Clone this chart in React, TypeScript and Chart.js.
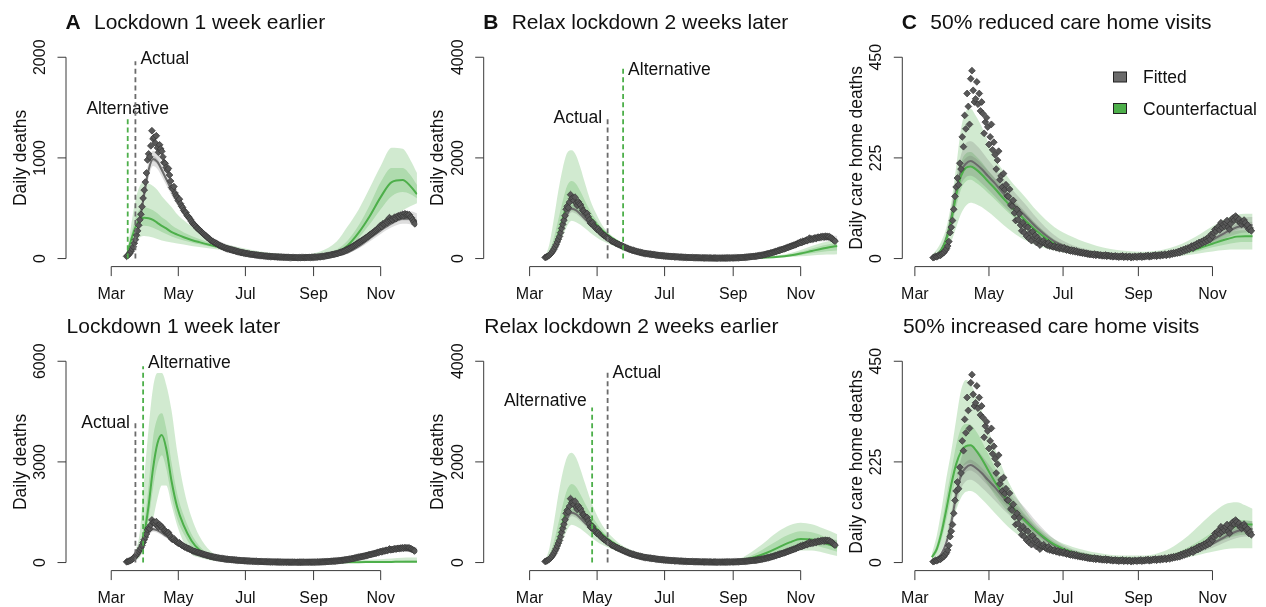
import React, { useEffect, useRef } from "react";
import { Chart, registerables } from "chart.js";

Chart.register(...registerables);

// ---------------- DATA ----------------
// x values are days since 1 March 2020
const monthTickDays = [0, 61, 122, 184, 245];
const monthTickLabels = ["Mar", "May", "Jul", "Sep", "Nov"];

// observed daily deaths (all settings), first value = day 14
const allDeathsStart = 14;
const allDeaths = [
  22, 30, 41, 55, 72, 95, 118, 152, 188, 232,
  275, 330, 385, 440, 515, 600, 680, 760, 850, 980,
  1040, 1010, 1120, 1270, 1190, 1205, 1150, 1220, 1100, 1055,
  1130, 1090, 1065, 1010, 955, 945, 905, 880, 895, 830,
  770, 705, 690, 715, 650, 625, 605, 575, 590, 545,
  520, 505, 478, 462, 455, 428, 418, 402, 388, 368,
  352, 338, 332, 318, 302, 296, 284, 276, 262, 254,
  246, 234, 226, 214, 206, 196, 186, 178, 171, 164,
  160, 151, 148, 139, 133, 127, 123, 117, 113, 107,
  104, 99, 97, 93, 90, 87, 85, 80, 78, 75,
  71, 68, 66, 63, 60, 58, 56, 54, 52, 49,
  48, 46, 44, 42, 41, 39, 38, 36, 35, 34,
  32, 31, 29, 28, 27, 26, 25, 24, 23, 22,
  21, 20, 20, 19, 18, 18, 17, 16, 16, 15,
  15, 14, 14, 13, 13, 12, 12, 12, 11, 11,
  11, 10, 10, 10, 10, 9, 9, 10, 9, 10,
  10, 10, 11, 10, 11, 11, 12, 11, 12, 13,
  13, 14, 14, 15, 16, 17, 18, 19, 21, 22,
  24, 26, 28, 30, 32, 35, 37, 40, 42, 44,
  46, 49, 52, 56, 60, 64, 68, 72, 77, 82,
  88, 93, 99, 104, 110, 116, 123, 130, 137, 144,
  152, 159, 165, 172, 180, 187, 194, 201, 210, 218,
  226, 235, 242, 250, 258, 268, 275, 284, 295, 305,
  313, 330, 318, 345, 340, 352, 368, 358, 378, 406,
  381, 392, 385, 404, 412, 398, 418, 425, 415, 432,
  428, 440, 425, 445, 432, 440, 430, 436, 412, 405,
  385, 365, 345,
];

// observed daily care home deaths, first value = day 15
const careHomeStart = 15;
const careHomeDeaths = [
  2, 3, 5, 4, 6, 8, 7, 10, 12, 14,
  18, 22, 28, 38, 58, 70, 85, 110, 139, 160,
  180, 165, 213, 200, 272, 250, 320, 290, 369, 340,
  300, 402, 420, 376, 350, 357, 395, 345, 369, 330,
  350, 324, 280, 305, 315, 294, 255, 272, 300, 243,
  260, 232, 200, 220, 240, 176, 185, 160, 190, 154,
  165, 140, 139, 155, 120, 117, 130, 102, 85, 110,
  87, 100, 75, 62, 80, 58, 72, 50, 70, 45,
  58, 40, 60, 48, 52, 36, 47, 40, 30, 38,
  36, 40, 34, 32, 30, 35, 28, 30, 27, 26,
  28, 25, 24, 26, 22, 24, 23, 21, 24, 20,
  19, 21, 18, 17, 19, 16, 18, 15, 17, 14,
  15, 13, 14, 12, 13, 11, 12, 10, 11, 9,
  10, 9, 8, 10, 7, 9, 8, 7, 8, 6,
  7, 6, 8, 5, 7, 6, 5, 6, 4, 5,
  6, 4, 5, 3, 5, 4, 6, 3, 4, 5,
  3, 4, 5, 2, 4, 3, 5, 4, 3, 5,
  4, 6, 3, 5, 4, 6, 5, 7, 4, 6,
  5, 7, 6, 8, 5, 7, 8, 6, 9, 7,
  8, 10, 7, 9, 11, 8, 12, 10, 13, 11,
  14, 12, 16, 13, 18, 15, 20, 17, 22, 19,
  24, 21, 26, 28, 23, 30, 27, 33, 29, 36,
  32, 38, 35, 41, 37, 44, 40, 48, 43, 54,
  50, 58, 65, 61, 68, 72, 64, 80, 69, 76,
  72, 80, 85, 70, 65, 78, 88, 91, 86, 95,
  91, 84, 88, 80, 76, 82, 86, 80, 72, 75,
  65, 68, 62,
];

// days at which model quantiles are given
const bandDays = [14, 18, 22, 26, 30, 34, 38, 42, 46, 50, 55, 60, 66, 73, 80, 90, 100, 115, 130, 150, 170, 190, 205, 215, 225, 235, 245, 255, 265, 272, 278];

// fitted model, all deaths
const fitAllMed  = [20, 70, 180, 380, 640, 880, 990, 960, 880, 790, 680, 580, 470, 370, 290, 200, 140, 90, 55, 32, 18, 15, 30, 60, 120, 200, 280, 350, 395, 395, 370];
const fitAllLo95 = [15, 55, 150, 330, 570, 800, 920, 890, 815, 730, 625, 530, 430, 335, 260, 175, 120, 75, 45, 25, 13, 11, 24, 50, 100, 170, 245, 310, 345, 340, 310];
const fitAllHi95 = [28, 90, 215, 440, 720, 960, 1070, 1040, 950, 860, 740, 640, 520, 410, 325, 230, 165, 110, 68, 40, 24, 21, 38, 75, 145, 235, 320, 400, 460, 470, 450];
const fitAllLo50 = [18, 64, 168, 360, 615, 855, 965, 935, 855, 768, 662, 563, 457, 358, 280, 192, 133, 85, 51, 30, 16, 14, 28, 56, 113, 190, 268, 335, 378, 377, 350];
const fitAllHi50 = [23, 77, 193, 402, 668, 905, 1018, 988, 905, 813, 700, 598, 485, 382, 300, 208, 147, 95, 59, 35, 20, 17, 33, 65, 128, 212, 293, 368, 415, 415, 392];

// fitted model, care home deaths
const fitCareMed  = [3, 8, 20, 45, 90, 150, 195, 212, 218, 212, 200, 185, 168, 145, 125, 98, 70, 38, 22, 12, 8, 6, 8, 12, 20, 30, 42, 57, 70, 74, 75];
const fitCareLo95 = [2, 6, 15, 35, 72, 125, 165, 182, 185, 180, 168, 155, 138, 118, 100, 76, 54, 28, 16, 8, 5, 4, 6, 9, 15, 23, 33, 45, 55, 58, 58];
const fitCareHi95 = [5, 11, 27, 58, 112, 180, 232, 258, 262, 255, 240, 222, 202, 178, 155, 124, 92, 52, 30, 17, 11, 9, 12, 17, 27, 39, 53, 70, 86, 92, 93];
const fitCareLo50 = [3, 7, 18, 41, 84, 142, 185, 202, 206, 200, 187, 172, 155, 133, 114, 89, 63, 34, 20, 11, 7, 5, 7, 11, 18, 27, 38, 52, 64, 68, 68];
const fitCareHi50 = [4, 9, 22, 50, 97, 160, 208, 225, 230, 224, 212, 197, 180, 157, 136, 107, 77, 42, 25, 14, 9, 7, 9, 14, 23, 33, 47, 63, 77, 81, 82];

// counterfactual: lockdown 1 week earlier
const cfEarlyLockMed  = [30, 180, 310, 385, 405, 400, 385, 355, 325, 300, 262, 238, 212, 185, 163, 135, 110, 80, 55, 32, 20, 22, 60, 130, 257, 420, 610, 760, 780, 720, 640];
const cfEarlyLockLo95 = [20, 90, 160, 210, 225, 220, 210, 195, 180, 170, 160, 150, 140, 125, 115, 100, 85, 60, 38, 22, 12, 10, 30, 65, 125, 230, 330, 420, 480, 520, 550];
const cfEarlyLockHi95 = [45, 320, 580, 720, 760, 745, 720, 680, 620, 570, 510, 440, 380, 320, 270, 185, 150, 115, 80, 50, 35, 70, 170, 320, 488, 700, 920, 1100, 1090, 980, 850];
const cfEarlyLockLo50 = [26, 145, 250, 310, 325, 320, 305, 285, 265, 245, 220, 200, 180, 160, 142, 120, 98, 72, 48, 28, 17, 18, 48, 105, 205, 340, 490, 620, 660, 640, 600];
const cfEarlyLockHi50 = [36, 230, 400, 490, 510, 500, 480, 450, 410, 380, 330, 295, 260, 225, 195, 155, 125, 92, 64, 38, 25, 35, 90, 180, 330, 530, 760, 900, 900, 830, 730];

// counterfactual: lockdown 1 week later
const cfLateLockMed  = [40, 60, 140, 350, 850, 1700, 2800, 3550, 3800, 3400, 2400, 1650, 1100, 650, 380, 160, 80, 40, 25, 15, 10, 8, 8, 10, 12, 15, 18, 20, 22, 22, 22];
const cfLateLockLo95 = [30, 40, 70, 160, 450, 900, 1300, 1900, 2300, 2300, 1700, 1100, 600, 250, 150, 70, 35, 18, 10, 6, 4, 3, 3, 4, 5, 6, 7, 8, 8, 8, 8];
const cfLateLockHi95 = [55, 120, 350, 900, 2500, 4000, 5200, 5650, 5650, 5300, 4500, 3300, 2200, 1350, 800, 350, 150, 80, 50, 35, 28, 28, 35, 45, 60, 80, 100, 120, 140, 150, 150];
const cfLateLockLo50 = [35, 50, 110, 260, 650, 1300, 2200, 2900, 3200, 2800, 1950, 1300, 850, 480, 280, 110, 55, 28, 17, 10, 7, 5, 5, 6, 7, 9, 10, 12, 13, 13, 13];
const cfLateLockHi50 = [45, 80, 200, 500, 1150, 2300, 3700, 4300, 4450, 4000, 2950, 2050, 1400, 850, 500, 220, 110, 55, 35, 22, 16, 14, 16, 20, 25, 32, 40, 48, 55, 58, 58];

// counterfactual: relax lockdown 2 weeks later
const cfLateRelaxMed  = [20, 80, 220, 480, 800, 1080, 1200, 1150, 1060, 950, 820, 690, 560, 430, 330, 220, 150, 90, 55, 30, 15, 10, 12, 20, 35, 60, 100, 150, 200, 230, 250];
const cfLateRelaxLo95 = [12, 40, 100, 250, 450, 650, 750, 720, 670, 600, 510, 430, 350, 280, 215, 150, 100, 60, 35, 18, 8, 5, 6, 10, 18, 30, 45, 60, 75, 80, 85];
const cfLateRelaxHi95 = [30, 300, 800, 1350, 1800, 2100, 2150, 2050, 1800, 1500, 1150, 900, 650, 480, 370, 250, 170, 105, 65, 35, 22, 18, 24, 38, 65, 105, 170, 250, 320, 350, 370];
const cfLateRelaxLo50 = [15, 60, 160, 370, 620, 860, 960, 920, 850, 770, 660, 560, 455, 350, 268, 182, 125, 75, 45, 24, 11, 7, 9, 15, 26, 45, 72, 105, 135, 150, 160];
const cfLateRelaxHi50 = [24, 150, 420, 780, 1150, 1450, 1540, 1480, 1330, 1150, 940, 770, 590, 450, 345, 235, 160, 98, 60, 33, 18, 14, 18, 29, 50, 82, 135, 200, 260, 290, 310];

// counterfactual: relax lockdown 2 weeks earlier
const cfEarlyRelaxMed  = [20, 80, 220, 480, 800, 1080, 1200, 1150, 1060, 950, 820, 690, 560, 430, 330, 220, 150, 90, 55, 30, 20, 40, 120, 200, 300, 400, 470, 460, 400, 350, 300];
const cfEarlyRelaxLo95 = [12, 40, 100, 250, 450, 650, 750, 720, 670, 600, 510, 430, 350, 280, 215, 150, 100, 60, 35, 18, 10, 15, 50, 90, 140, 200, 240, 240, 200, 160, 130];
const cfEarlyRelaxHi95 = [30, 300, 800, 1350, 1800, 2100, 2180, 2080, 1850, 1580, 1250, 980, 730, 540, 400, 270, 185, 115, 72, 42, 30, 80, 280, 450, 620, 740, 790, 760, 680, 620, 560];
const cfEarlyRelaxLo50 = [15, 60, 160, 370, 620, 860, 960, 920, 850, 770, 660, 560, 455, 350, 268, 182, 125, 75, 45, 24, 15, 28, 85, 145, 220, 300, 355, 350, 300, 255, 215];
const cfEarlyRelaxHi50 = [24, 150, 420, 780, 1150, 1450, 1560, 1500, 1350, 1180, 980, 800, 620, 470, 365, 245, 168, 102, 63, 36, 25, 58, 190, 320, 450, 560, 620, 600, 530, 480, 430];

// counterfactual: 50% reduced care home visits
const cfLessVisitsMed  = [3, 8, 20, 44, 86, 142, 185, 203, 206, 200, 188, 173, 156, 134, 114, 88, 62, 33, 19, 10, 7, 5, 7, 10, 16, 24, 33, 42, 49, 50, 50];
const cfLessVisitsLo95 = [1, 3, 8, 18, 38, 70, 100, 118, 125, 122, 115, 105, 92, 75, 60, 42, 30, 18, 10, 5, 3, 2, 3, 5, 8, 12, 16, 19, 20, 20, 20];
const cfLessVisitsHi95 = [8, 20, 40, 70, 125, 205, 290, 330, 335, 320, 295, 262, 225, 195, 170, 140, 108, 70, 48, 28, 18, 15, 20, 28, 40, 55, 72, 88, 98, 100, 100];
const cfLessVisitsLo50 = [2, 6, 15, 34, 68, 115, 155, 172, 176, 170, 160, 147, 132, 113, 95, 72, 50, 26, 14, 7, 5, 4, 5, 7, 12, 18, 25, 31, 36, 37, 37];
const cfLessVisitsHi50 = [5, 12, 27, 56, 105, 168, 215, 235, 238, 230, 216, 198, 178, 155, 132, 104, 76, 42, 26, 14, 9, 8, 10, 14, 21, 31, 42, 54, 62, 63, 63];

// counterfactual: 50% increased care home visits
const cfMoreVisitsMed  = [12, 30, 68, 120, 175, 220, 248, 260, 262, 252, 232, 208, 180, 150, 125, 95, 70, 40, 23, 13, 9, 8, 11, 17, 27, 40, 55, 70, 82, 85, 85];
const cfMoreVisitsLo95 = [5, 12, 28, 55, 85, 118, 145, 158, 160, 155, 142, 128, 110, 90, 72, 52, 36, 20, 11, 6, 4, 4, 5, 8, 12, 18, 24, 30, 32, 32, 32];
const cfMoreVisitsHi95 = [20, 60, 120, 190, 250, 320, 385, 408, 400, 375, 340, 300, 255, 205, 165, 120, 85, 52, 35, 22, 16, 16, 25, 40, 60, 85, 110, 130, 135, 128, 120];
const cfMoreVisitsLo50 = [9, 22, 52, 96, 145, 185, 210, 220, 222, 214, 196, 175, 150, 125, 103, 78, 57, 32, 18, 10, 7, 6, 8, 12, 19, 29, 40, 52, 60, 62, 62];
const cfMoreVisitsHi50 = [15, 40, 85, 148, 205, 262, 300, 310, 308, 295, 272, 245, 212, 175, 146, 110, 80, 46, 28, 16, 11, 10, 14, 22, 34, 50, 68, 85, 95, 95, 92];

// y-axis tick labels
const ticksA1 = [0, 1000, 2000];
const ticksA2 = [0, 3000, 6000];
const ticksB = [0, 2000, 4000];
const ticksC = [0, 225, 450];

// ---------------- STYLE ----------------
const FONT = '"Liberation Sans", Arial, Helvetica, sans-serif';
const GREEN = "#4DAF4A";
const GREEN_BAND = "rgba(77,175,74,0.26)";
const GREY_BAND = "rgba(105,105,105,0.22)";
const GREY_LINE = "#6a6a6a";
const DASH_GREY = "#6b6b6b";
const TEXT = "#111";
const AXIS = "#3a3a3a";

const W = 422;
const H = 303;
const PLOT_TOP = 49.2;
const PLOT_BOTTOM = 266.6;

const GEOM: Record<string, { left: number; right: number; xMin: number; xMax: number }> = {
  A: { left: 66, right: 421, xMin: -41.12, xMax: 278.3 },
  B: { left: 61.7, right: 418, xMin: -41.5, xMax: 279.9 },
  C: { left: 58.3, right: 421, xMin: -10.35, xMax: 285.2 },
};

type Band = { med: number[]; lo95: number[]; hi95: number[]; lo50: number[]; hi50: number[] };
type VLine = { day: number; top: number; color: string; label: string; side: "left" | "right" | "center"; textAt: number };
type Panel = {
  col: number; row: number; geom: string; letter?: string; title: string; yTitle: string;
  yTicks: number[]; obsStart: number; obs: number[]; fit: Band; cf: Band; vlines: VLine[]; legend?: boolean;
};

const fitAll: Band = { med: fitAllMed, lo95: fitAllLo95, hi95: fitAllHi95, lo50: fitAllLo50, hi50: fitAllHi50 };
const fitCare: Band = { med: fitCareMed, lo95: fitCareLo95, hi95: fitCareHi95, lo50: fitCareLo50, hi50: fitCareHi50 };

const panels: Panel[] = [
  {
    col: 0, row: 0, geom: "A", letter: "A", title: "Lockdown 1 week earlier", yTitle: "Daily deaths", yTicks: ticksA1,
    obsStart: allDeathsStart, obs: allDeaths, fit: fitAll,
    cf: { med: cfEarlyLockMed, lo95: cfEarlyLockLo95, hi95: cfEarlyLockHi95, lo50: cfEarlyLockLo50, hi50: cfEarlyLockHi50 },
    vlines: [
      { day: 15, top: 1410, color: GREEN, label: "Alternative", side: "center", textAt: 1500 },
      { day: 22, top: 1960, color: DASH_GREY, label: "Actual", side: "right", textAt: 2000 },
    ],
  },
  {
    col: 1, row: 0, geom: "B", letter: "B", title: "Relax lockdown 2 weeks later", yTitle: "Daily deaths", yTicks: ticksB,
    obsStart: allDeathsStart, obs: allDeaths, fit: fitAll,
    cf: { med: cfLateRelaxMed, lo95: cfLateRelaxLo95, hi95: cfLateRelaxHi95, lo50: cfLateRelaxLo50, hi50: cfLateRelaxHi50 },
    vlines: [
      { day: 70.5, top: 2820, color: DASH_GREY, label: "Actual", side: "left", textAt: 2820 },
      { day: 84.5, top: 3780, color: GREEN, label: "Alternative", side: "right", textAt: 3780 },
    ],
  },
  {
    col: 2, row: 0, geom: "C", letter: "C", title: "50% reduced care home visits", yTitle: "Daily care home deaths", yTicks: ticksC,
    obsStart: careHomeStart, obs: careHomeDeaths, fit: fitCare,
    cf: { med: cfLessVisitsMed, lo95: cfLessVisitsLo95, hi95: cfLessVisitsHi95, lo50: cfLessVisitsLo50, hi50: cfLessVisitsHi50 },
    vlines: [], legend: true,
  },
  {
    col: 0, row: 1, geom: "A", title: "Lockdown 1 week later", yTitle: "Daily deaths", yTicks: ticksA2,
    obsStart: allDeathsStart, obs: allDeaths, fit: fitAll,
    cf: { med: cfLateLockMed, lo95: cfLateLockLo95, hi95: cfLateLockHi95, lo50: cfLateLockLo50, hi50: cfLateLockHi50 },
    vlines: [
      { day: 22, top: 4200, color: DASH_GREY, label: "Actual", side: "left", textAt: 4200 },
      { day: 29, top: 5850, color: GREEN, label: "Alternative", side: "right", textAt: 6000 },
    ],
  },
  {
    col: 1, row: 1, geom: "B", title: "Relax lockdown 2 weeks earlier", yTitle: "Daily deaths", yTicks: ticksB,
    obsStart: allDeathsStart, obs: allDeaths, fit: fitAll,
    cf: { med: cfEarlyRelaxMed, lo95: cfEarlyRelaxLo95, hi95: cfEarlyRelaxHi95, lo50: cfEarlyRelaxLo50, hi50: cfEarlyRelaxHi50 },
    vlines: [
      { day: 56.5, top: 3080, color: GREEN, label: "Alternative", side: "left", textAt: 3230 },
      { day: 70.5, top: 3800, color: DASH_GREY, label: "Actual", side: "right", textAt: 3800 },
    ],
  },
  {
    col: 2, row: 1, geom: "C", title: "50% increased care home visits", yTitle: "Daily care home deaths", yTicks: ticksC,
    obsStart: careHomeStart, obs: careHomeDeaths, fit: fitCare,
    cf: { med: cfMoreVisitsMed, lo95: cfMoreVisitsLo95, hi95: cfMoreVisitsHi95, lo50: cfMoreVisitsLo50, hi50: cfMoreVisitsHi50 },
    vlines: [],
  },
];

// ---------------- HELPERS ----------------
const xy = (days: number[], vals: number[]) => days.map((d, i) => ({ x: d, y: vals[i] }));
const daily = (start: number, vals: number[]) => vals.map((v, i) => ({ x: start + i, y: v }));

function bandDatasets(b: Band, color: string, base: number, order: number) {
  const common = {
    pointRadius: 0, borderWidth: 0, borderColor: "rgba(0,0,0,0)",
    cubicInterpolationMode: "monotone" as const, showLine: true,
  };
  return [
    { ...common, data: xy(bandDays, b.hi95), fill: base + 1, backgroundColor: color, order: order + 1 },
    { ...common, data: xy(bandDays, b.lo95), fill: false, order: order + 1 },
    { ...common, data: xy(bandDays, b.hi50), fill: base + 3, backgroundColor: color, order },
    { ...common, data: xy(bandDays, b.lo50), fill: false, order },
  ];
}

function drawDecor(chart: any, p: Panel) {
  const ctx: CanvasRenderingContext2D = chart.ctx;
  const xs = chart.scales.x;
  const ys = chart.scales.y;
  const ca = chart.chartArea;
  ctx.save();

  // dashed intervention lines
  for (const v of p.vlines) {
    const x = xs.getPixelForValue(v.day);
    ctx.strokeStyle = v.color;
    ctx.lineWidth = 1.8;
    ctx.setLineDash([5, 3.4]);
    ctx.beginPath();
    ctx.moveTo(x, ys.getPixelForValue(0));
    ctx.lineTo(x, ys.getPixelForValue(v.top));
    ctx.stroke();
    ctx.setLineDash([]);
    ctx.fillStyle = TEXT;
    ctx.font = `17.5px ${FONT}`;
    ctx.textBaseline = "alphabetic";
    const ty = ys.getPixelForValue(v.textAt) + 6.3;
    if (v.side === "right") {
      ctx.textAlign = "left";
      ctx.fillText(v.label, x + 5, ty);
    } else if (v.side === "left") {
      ctx.textAlign = "right";
      ctx.fillText(v.label, x - 5.5, ty);
    } else {
      ctx.textAlign = "center";
      ctx.fillText(v.label, x, ty);
    }
  }

  // x axis (R style: line spans first to last tick)
  ctx.strokeStyle = AXIS;
  ctx.lineWidth = 1;
  const yAx = ca.bottom;
  const x0 = xs.getPixelForValue(monthTickDays[0]);
  const x1 = xs.getPixelForValue(monthTickDays[monthTickDays.length - 1]);
  ctx.beginPath();
  ctx.moveTo(x0, yAx);
  ctx.lineTo(x1, yAx);
  for (const d of monthTickDays) {
    const x = xs.getPixelForValue(d);
    ctx.moveTo(x, yAx);
    ctx.lineTo(x, yAx + 9.5);
  }
  ctx.stroke();
  ctx.fillStyle = TEXT;
  ctx.font = `16px ${FONT}`;
  ctx.textAlign = "center";
  ctx.textBaseline = "alphabetic";
  monthTickDays.forEach((d, i) => {
    ctx.fillText(monthTickLabels[i], xs.getPixelForValue(d), yAx + 32.6);
  });

  // y axis
  const xAx = ca.left;
  const yb = ys.getPixelForValue(p.yTicks[0]);
  const yt = ys.getPixelForValue(p.yTicks[p.yTicks.length - 1]);
  ctx.beginPath();
  ctx.moveTo(xAx, yb);
  ctx.lineTo(xAx, yt);
  for (const t of p.yTicks) {
    const y = ys.getPixelForValue(t);
    ctx.moveTo(xAx, y);
    ctx.lineTo(xAx - 8.5, y);
  }
  ctx.stroke();
  for (const t of p.yTicks) {
    const y = ys.getPixelForValue(t);
    ctx.save();
    ctx.translate(xAx - 21, y);
    ctx.rotate(-Math.PI / 2);
    ctx.textAlign = "center";
    ctx.fillText(String(t), 0, 0);
    ctx.restore();
  }
  ctx.save();
  ctx.font = `17.5px ${FONT}`;
  ctx.translate(xAx - 40.5, (ca.top + ca.bottom) / 2);
  ctx.rotate(-Math.PI / 2);
  ctx.textAlign = "center";
  ctx.fillText(p.yTitle, 0, 0);
  ctx.restore();

  // title
  ctx.textAlign = "left";
  if (p.letter) {
    ctx.font = `bold 21px ${FONT}`;
    ctx.fillText(p.letter, xAx - 0.5, 29);
    ctx.font = `21px ${FONT}`;
    ctx.fillText(p.title, xAx + 28, 29);
  } else {
    ctx.font = `21px ${FONT}`;
    ctx.fillText(p.title, xAx + 0.6, 29);
  }

  // legend
  if (p.legend) {
    const lx = 269.5;
    const items = [
      { label: "Fitted", fill: "#6b6b6b", cy: 77 },
      { label: "Counterfactual", fill: GREEN, cy: 108.5 },
    ];
    ctx.font = `17.5px ${FONT}`;
    for (const it of items) {
      ctx.fillStyle = it.fill;
      ctx.fillRect(lx, it.cy - 5, 13, 10);
      ctx.strokeStyle = "#222";
      ctx.lineWidth = 1;
      ctx.strokeRect(lx, it.cy - 5, 13, 10);
      ctx.fillStyle = TEXT;
      ctx.fillText(it.label, 299, it.cy + 6.3);
    }
  }
  ctx.restore();
}

function PanelChart({ p }: { p: Panel }) {
  const ref = useRef<HTMLCanvasElement>(null);
  useEffect(() => {
    const g = GEOM[p.geom];
    const M = p.yTicks[p.yTicks.length - 1];
    const datasets: any[] = [
      ...bandDatasets(p.cf, GREEN_BAND, 0, 20),
      ...bandDatasets(p.fit, GREY_BAND, 4, 16),
      {
        data: xy(bandDays, p.fit.med), borderColor: GREY_LINE, borderWidth: 2, pointRadius: 0,
        cubicInterpolationMode: "monotone", fill: false, order: 4,
      },
      {
        data: xy(bandDays, p.cf.med), borderColor: GREEN, borderWidth: 2, pointRadius: 0,
        cubicInterpolationMode: "monotone", fill: false, order: 3,
      },
      {
        data: daily(p.obsStart, p.obs), showLine: false, pointStyle: "rectRot", pointRadius: 3.4,
        backgroundColor: "#585858", borderColor: "#363636", borderWidth: 0.7, fill: false, order: 1,
      },
    ];
    const chart = new Chart(ref.current as HTMLCanvasElement, {
      type: "line",
      data: { datasets },
      options: {
        animation: false,
        responsive: false,
        events: [],
        layout: { padding: { left: g.left, right: W - g.right, top: PLOT_TOP, bottom: H - PLOT_BOTTOM } },
        scales: {
          x: { type: "linear", min: g.xMin, max: g.xMax, display: false },
          y: { type: "linear", min: -0.04 * M, max: 1.04 * M, display: false },
        },
        plugins: { legend: { display: false }, tooltip: { enabled: false }, title: { display: false } },
      },
      plugins: [{ id: "rdecor", afterDatasetsDraw: (c: any) => drawDecor(c, p) }],
    } as any);
    return () => chart.destroy();
  }, [p]);
  return (
    <canvas
      ref={ref}
      width={W}
      height={H}
      style={{ position: "absolute", left: p.col * 422, top: p.row * 304, width: W, height: H, display: "block" }}
    />
  );
}

export default function App() {
  return (
    <div style={{ position: "fixed", left: 0, top: 0, width: 1266, height: 607, background: "#fff", overflow: "hidden" }}>
      {panels.map((p, i) => (
        <PanelChart key={i} p={p} />
      ))}
    </div>
  );
}
